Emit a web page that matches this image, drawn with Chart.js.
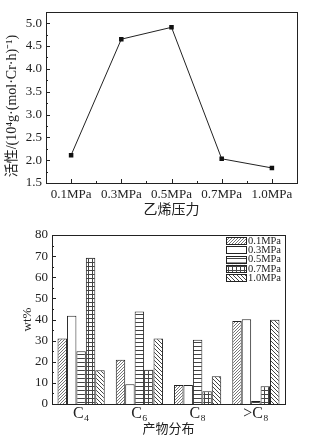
<!DOCTYPE html>
<html>
<head>
<meta charset="utf-8">
<script src="https://cdn.jsdelivr.net/npm/chart.js"></script>
<style>
  html, body { margin: 0; padding: 0; background: #fff; }
  #top { position: absolute; left: 0; top: 0; width: 312px; height: 218px; }
  #bottom { position: absolute; left: 0; top: 218px; width: 312px; height: 220px; }
</style>
</head>
<body>
<div id="top"><canvas id="activity-chart"></canvas></div>
<div id="bottom"><canvas id="product-chart"></canvas></div>
<script>
// ethylene pressure vs activity
const pressures = ['0.1MPa', '0.3MPa', '0.5MPa', '0.7MPa', '1.0MPa'];
const activity = [2.11, 4.65, 4.91, 2.03, 1.83];
const activityTicks = [1.5, 2.0, 2.5, 3.0, 3.5, 4.0, 4.5, 5.0];

// product distribution, wt% per pressure
const fractions = ['C₄', 'C₆', 'C₈', '>C₈'];
const wt01 = [31.0, 21.0, 9.0, 39.3];
const wt03 = [41.8, 9.3, 9.0, 40.1];
const wt05 = [25.0, 43.8, 30.4, 1.4];
const wt07 = [69.2, 16.2, 6.0, 8.4];
const wt10 = [16.0, 31.0, 13.1, 39.9];

const serif = "'Liberation Serif', 'Noto Sans CJK SC', serif";
const ink = '#222';

function hatch(kind) {
  const s = kind === 'dense' ? 3 : 4;
  const c = document.createElement('canvas');
  c.width = s; c.height = s;
  const g = c.getContext('2d');
  g.fillStyle = '#fff';
  g.fillRect(0, 0, s, s);
  g.fillStyle = kind === 'dense' ? '#777' : '#444';
  if (kind === 'plain') return g.createPattern(c, 'repeat');
  if (kind === 'dense') {
    for (let i = 0; i < s; i++) g.fillRect(s - 1 - i, i, 1, 1);
  } else if (kind === 'back') {
    for (let i = 0; i < s; i++) g.fillRect(i, i, 1, 1);
  } else if (kind === 'horiz') {
    g.fillRect(0, 0, s, 1);
  } else if (kind === 'grid') {
    g.fillRect(0, 0, s, 1);
    g.fillRect(0, 0, 1, s);
  }
  return g.createPattern(c, 'repeat');
}

// box around plot + inward ticks
const frame = {
  id: 'frame',
  afterDatasetsDraw(chart, args, opts) {
    const { ctx, chartArea: a } = chart;
    const x = chart.scales.x, y = chart.scales.y;
    ctx.save();
    ctx.strokeStyle = ink;
    ctx.lineWidth = 1;
    ctx.strokeRect(Math.round(a.left) + 0.5, Math.round(a.top) + 0.5,
      Math.round(a.right - a.left), Math.round(a.bottom - a.top));
    ctx.beginPath();
    const yt = y.ticks;
    yt.forEach((t, i) => {
      const py = Math.round(y.getPixelForValue(t.value)) + 0.5;
      ctx.moveTo(a.left, py); ctx.lineTo(a.left + 4, py);
      if (i < yt.length - 1) {
        const my = Math.round(y.getPixelForValue((t.value + yt[i + 1].value) / 2)) + 0.5;
        ctx.moveTo(a.left, my); ctx.lineTo(a.left + 2, my);
      }
    });
    if (opts.xTicks) {
      const n = chart.data.labels.length;
      for (let i = 0; i < n; i++) {
        const px = Math.round(x.getPixelForValue(i)) + 0.5;
        ctx.moveTo(px, a.bottom); ctx.lineTo(px, a.bottom - 4);
        if (i < n - 1) {
          const mx = Math.round(x.getPixelForValue(i + 0.5)) + 0.5;
          ctx.moveTo(mx, a.bottom); ctx.lineTo(mx, a.bottom - 2);
        }
      }
    }
    ctx.stroke();
    ctx.restore();
  }
};

// legend drawn inside the plot, top right
const innerLegend = {
  id: 'innerLegend',
  afterDraw(chart) {
    const { ctx, chartArea: a } = chart;
    const left = a.right - 59;
    ctx.save();
    ctx.font = '10.5px ' + serif;
    ctx.textBaseline = 'middle';
    chart.data.datasets.forEach((ds, i) => {
      const cy = a.top + 5.5 + i * 9.3;
      ctx.fillStyle = ds.backgroundColor;
      ctx.fillRect(left, cy - 3.5, 20, 7);
      ctx.strokeStyle = ink;
      ctx.strokeRect(Math.round(left) + 0.5, Math.round(cy - 3.5) + 0.5, 20, 7);
      ctx.fillStyle = ink;
      ctx.fillText(ds.label, left + 22, cy + 0.5);
    });
    ctx.restore();
  }
};

new Chart(document.getElementById('activity-chart'), {
  type: 'line',
  data: {
    labels: pressures,
    datasets: [{
      data: activity,
      borderColor: ink,
      borderWidth: 1,
      pointStyle: 'rect',
      pointRadius: 3.2,
      pointBackgroundColor: '#111',
      pointBorderWidth: 0,
      tension: 0
    }]
  },
  options: {
    animation: false,
    responsive: true,
    maintainAspectRatio: false,
    layout: { padding: { top: 8, right: 15, left: 0, bottom: 0 } },
    plugins: { legend: { display: false }, tooltip: { enabled: false }, frame: { xTicks: true } },
    scales: {
      x: {
        offset: true,
        grid: { display: false, drawTicks: false },
        border: { display: false },
        ticks: { color: ink, font: { family: serif, size: 13 }, padding: 4, maxRotation: 0, autoSkip: false },
        title: { display: true, text: '乙烯压力', color: ink, font: { family: "'Noto Sans CJK SC'", size: 14, lineHeight: 1 }, padding: { top: 0, bottom: 2.5 } },
        afterFit: s => { s.height = 35; }
      },
      y: {
        min: 1.5,
        max: 5.25,
        grid: { display: false, drawTicks: false },
        border: { display: false },
        ticks: { color: ink, font: { family: serif, size: 13 }, padding: 4, callback: v => v.toFixed(1) },
        afterBuildTicks: s => { s.ticks = activityTicks.map(v => ({ value: v })); },
        // trailing spaces push the rotated title a little lower, as in the reference
        title: { display: true, text: '活性/(10⁴g·(mol·Cr·h)⁻¹)     ', color: ink, font: { family: serif, size: 14, lineHeight: 1 }, padding: { top: 5.5, bottom: 0 } },
        afterFit: s => { s.width = 46; }
      }
    }
  },
  plugins: [frame]
});

new Chart(document.getElementById('product-chart'), {
  type: 'bar',
  data: {
    labels: fractions,
    datasets: [
      { label: '0.1MPa', data: wt01, backgroundColor: hatch('dense') },
      { label: '0.3MPa', data: wt03, backgroundColor: hatch('plain') },
      { label: '0.5MPa', data: wt05, backgroundColor: hatch('horiz') },
      { label: '0.7MPa', data: wt07, backgroundColor: hatch('grid') },
      { label: '1.0MPa', data: wt10, backgroundColor: hatch('back') }
    ].map(d => Object.assign(d, { borderColor: ink, borderWidth: 1, barPercentage: 1, categoryPercentage: 0.81 }))
  },
  options: {
    animation: false,
    responsive: true,
    maintainAspectRatio: false,
    layout: { padding: { top: 17, right: 27, left: 0, bottom: 0 } },
    plugins: { legend: { display: false }, tooltip: { enabled: false }, frame: { xTicks: false } },
    scales: {
      x: {
        grid: { display: false, drawTicks: false },
        border: { display: false },
        ticks: { color: ink, font: { family: serif, size: 16 }, padding: 0, maxRotation: 0, autoSkip: false },
        title: { display: true, text: '产物分布', color: ink, font: { family: "'Noto Sans CJK SC'", size: 13, lineHeight: 1 }, padding: { top: 0, bottom: 3.5 } },
        afterFit: s => { s.height = 34; }
      },
      y: {
        min: 0,
        max: 80,
        grid: { display: false, drawTicks: false },
        border: { display: false },
        ticks: { stepSize: 10, color: ink, font: { family: serif, size: 13 }, padding: 4 },
        title: { display: true, text: 'wt%', color: ink, font: { family: serif, size: 13, lineHeight: 1 }, padding: { top: 21.5, bottom: 0 } },
        afterFit: s => { s.width = 52; }
      }
    }
  },
  plugins: [frame, innerLegend]
});
</script>
</body>
</html>
